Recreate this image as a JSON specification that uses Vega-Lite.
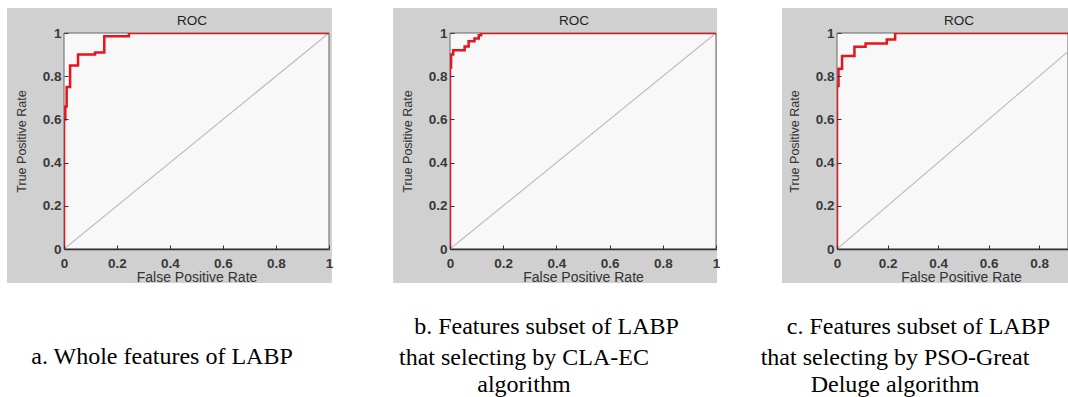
{
  "$schema": "https://vega.github.io/schema/vega-lite/v6.json",
  "background": "white",
  "padding": {"left": 7, "top": 7, "right": 0, "bottom": 0},
  "bounds": "flush",
  "spacing": 121,
  "config": {
    "view": {"stroke": null},
    "axis": {
      "zindex": 1, "grid": false,
      "labelFont": "Liberation Sans", "labelFontSize": 13.5, "labelFontWeight": "bold", "labelColor": "#383838",
      "titleFont": "Liberation Sans", "titleFontSize": 14, "titleFontWeight": "normal", "titleColor": "#333333",
      "tickColor": "#333333", "tickSize": -4, "domainColor": "#333333", "labelFlush": false, "format": "~g"
    },
    "axisY": {"titleFontSize": 12.5}
  },
  "resolve": {"scale": {"x": "independent", "y": "independent"}},
  "datasets": {
    "roc": [
      {"panel": "a", "i": 0, "fpr": 0, "tpr": 0},
      {"panel": "a", "i": 1, "fpr": 0, "tpr": 0.6},
      {"panel": "a", "i": 2, "fpr": 0.005, "tpr": 0.6},
      {"panel": "a", "i": 3, "fpr": 0.005, "tpr": 0.66},
      {"panel": "a", "i": 4, "fpr": 0.01, "tpr": 0.66},
      {"panel": "a", "i": 5, "fpr": 0.01, "tpr": 0.75},
      {"panel": "a", "i": 6, "fpr": 0.023, "tpr": 0.75},
      {"panel": "a", "i": 7, "fpr": 0.023, "tpr": 0.85},
      {"panel": "a", "i": 8, "fpr": 0.053, "tpr": 0.85},
      {"panel": "a", "i": 9, "fpr": 0.053, "tpr": 0.9},
      {"panel": "a", "i": 10, "fpr": 0.117, "tpr": 0.9},
      {"panel": "a", "i": 11, "fpr": 0.117, "tpr": 0.91},
      {"panel": "a", "i": 12, "fpr": 0.152, "tpr": 0.91},
      {"panel": "a", "i": 13, "fpr": 0.152, "tpr": 0.985},
      {"panel": "a", "i": 14, "fpr": 0.245, "tpr": 0.985},
      {"panel": "a", "i": 15, "fpr": 0.245, "tpr": 1},
      {"panel": "a", "i": 16, "fpr": 1, "tpr": 1},
      {"panel": "b", "i": 0, "fpr": 0, "tpr": 0},
      {"panel": "b", "i": 1, "fpr": 0, "tpr": 0.84},
      {"panel": "b", "i": 2, "fpr": 0.004, "tpr": 0.84},
      {"panel": "b", "i": 3, "fpr": 0.004, "tpr": 0.9},
      {"panel": "b", "i": 4, "fpr": 0.012, "tpr": 0.9},
      {"panel": "b", "i": 5, "fpr": 0.012, "tpr": 0.92},
      {"panel": "b", "i": 6, "fpr": 0.055, "tpr": 0.92},
      {"panel": "b", "i": 7, "fpr": 0.055, "tpr": 0.937},
      {"panel": "b", "i": 8, "fpr": 0.07, "tpr": 0.937},
      {"panel": "b", "i": 9, "fpr": 0.07, "tpr": 0.962},
      {"panel": "b", "i": 10, "fpr": 0.092, "tpr": 0.962},
      {"panel": "b", "i": 11, "fpr": 0.092, "tpr": 0.975},
      {"panel": "b", "i": 12, "fpr": 0.108, "tpr": 0.975},
      {"panel": "b", "i": 13, "fpr": 0.108, "tpr": 0.99},
      {"panel": "b", "i": 14, "fpr": 0.117, "tpr": 0.99},
      {"panel": "b", "i": 15, "fpr": 0.117, "tpr": 1},
      {"panel": "b", "i": 16, "fpr": 1, "tpr": 1},
      {"panel": "c", "i": 0, "fpr": 0, "tpr": 0},
      {"panel": "c", "i": 1, "fpr": 0, "tpr": 0.755},
      {"panel": "c", "i": 2, "fpr": 0.006, "tpr": 0.755},
      {"panel": "c", "i": 3, "fpr": 0.006, "tpr": 0.835},
      {"panel": "c", "i": 4, "fpr": 0.02, "tpr": 0.835},
      {"panel": "c", "i": 5, "fpr": 0.02, "tpr": 0.893},
      {"panel": "c", "i": 6, "fpr": 0.069, "tpr": 0.893},
      {"panel": "c", "i": 7, "fpr": 0.069, "tpr": 0.936},
      {"panel": "c", "i": 8, "fpr": 0.113, "tpr": 0.936},
      {"panel": "c", "i": 9, "fpr": 0.113, "tpr": 0.951},
      {"panel": "c", "i": 10, "fpr": 0.197, "tpr": 0.951},
      {"panel": "c", "i": 11, "fpr": 0.197, "tpr": 0.97},
      {"panel": "c", "i": 12, "fpr": 0.23, "tpr": 0.97},
      {"panel": "c", "i": 13, "fpr": 0.23, "tpr": 1},
      {"panel": "c", "i": 14, "fpr": 1, "tpr": 1}
    ]
  },
  "hconcat": [
    {
      "width": 265, "height": 216,
      "layer": [
        {"data": {"values": [{}]}, "mark": {"type": "rect", "fill": "#d0d0d0"},
         "encoding": {
           "x": {"datum": -0.215, "type": "quantitative", "scale": {"domain": [0, 1], "nice": false, "zero": false}},
           "x2": {"datum": 1.011},
           "y": {"datum": -0.157, "type": "quantitative", "scale": {"domain": [0, 1], "nice": false, "zero": false}},
           "y2": {"datum": 1.116}}},
        {"data": {"values": [{}]}, "mark": {"type": "rect", "fill": "#f8f8f8", "stroke": "#666666", "strokeWidth": 1},
         "encoding": {
           "x": {"datum": 0, "type": "quantitative", "scale": {"domain": [0, 1], "nice": false, "zero": false}},
           "x2": {"datum": 1},
           "y": {"datum": 0, "type": "quantitative", "scale": {"domain": [0, 1], "nice": false, "zero": false}},
           "y2": {"datum": 1}}},
        {"data": {"values": [{}]}, "mark": {"type": "rule", "color": "#bdbdbd", "strokeWidth": 1.2, "clip": true},
         "encoding": {
           "x": {"datum": 0, "type": "quantitative", "scale": {"domain": [0, 1], "nice": false, "zero": false}},
           "x2": {"datum": 1},
           "y": {"datum": 0, "type": "quantitative", "scale": {"domain": [0, 1], "nice": false, "zero": false}},
           "y2": {"datum": 1}}},
        {"data": {"name": "roc"}, "transform": [{"filter": "datum.panel === 'a'"}],
         "mark": {"type": "line", "color": "#e8131b", "strokeWidth": 2.5, "clip": true},
         "encoding": {
           "x": {"field": "fpr", "type": "quantitative", "scale": {"domain": [0, 1], "nice": false, "zero": false},
                 "axis": {"zindex": 2, "title": "False Positive Rate", "values": [0, 0.2, 0.4, 0.6, 0.8, 1], "labelPadding": 11, "titleY": 32, "titleBaseline": "alphabetic", "domainWidth": 1.5}},
           "y": {"field": "tpr", "type": "quantitative", "scale": {"domain": [0, 1], "nice": false, "zero": false},
                 "axis": {"zindex": 2, "title": "True Positive Rate", "values": [0, 0.2, 0.4, 0.6, 0.8, 1], "domain": false, "labelPadding": 7, "titleX": -43, "titleY": 108, "titleBaseline": "middle", "titleAlign": "center"}},
           "order": {"field": "i", "type": "quantitative"}}},
        {"data": {"values": [{}]}, "mark": {"type": "text", "text": "ROC", "font": "Liberation Sans", "fontSize": 13.5, "color": "#222222", "align": "center", "baseline": "alphabetic"},
         "encoding": {
           "x": {"datum": 0.483, "type": "quantitative", "scale": {"domain": [0, 1], "nice": false, "zero": false}},
           "y": {"datum": 1.037, "type": "quantitative", "scale": {"domain": [0, 1], "nice": false, "zero": false}}}},
        {"data": {"values": [{}]}, "mark": {"type": "text", "text": "a. Whole features of LABP", "font": "Liberation Serif", "fontSize": 24, "color": "#000000", "align": "center", "baseline": "alphabetic"},
         "encoding": {
           "x": {"datum": 0.37, "type": "quantitative", "scale": {"domain": [0, 1], "nice": false, "zero": false}},
           "y": {"datum": -0.532, "type": "quantitative", "scale": {"domain": [0, 1], "nice": false, "zero": false}}}}
      ]
    },
    {
      "width": 266, "height": 216,
      "layer": [
        {"data": {"values": [{}]}, "mark": {"type": "rect", "fill": "#d0d0d0"},
         "encoding": {
           "x": {"datum": -0.214, "type": "quantitative", "scale": {"domain": [0, 1], "nice": false, "zero": false}},
           "x2": {"datum": 1.004},
           "y": {"datum": -0.157, "type": "quantitative", "scale": {"domain": [0, 1], "nice": false, "zero": false}},
           "y2": {"datum": 1.116}}},
        {"data": {"values": [{}]}, "mark": {"type": "rect", "fill": "#f8f8f8", "stroke": "#666666", "strokeWidth": 1},
         "encoding": {
           "x": {"datum": 0, "type": "quantitative", "scale": {"domain": [0, 1], "nice": false, "zero": false}},
           "x2": {"datum": 1},
           "y": {"datum": 0, "type": "quantitative", "scale": {"domain": [0, 1], "nice": false, "zero": false}},
           "y2": {"datum": 1}}},
        {"data": {"values": [{}]}, "mark": {"type": "rule", "color": "#bdbdbd", "strokeWidth": 1.2, "clip": true},
         "encoding": {
           "x": {"datum": 0, "type": "quantitative", "scale": {"domain": [0, 1], "nice": false, "zero": false}},
           "x2": {"datum": 1},
           "y": {"datum": 0, "type": "quantitative", "scale": {"domain": [0, 1], "nice": false, "zero": false}},
           "y2": {"datum": 1}}},
        {"data": {"name": "roc"}, "transform": [{"filter": "datum.panel === 'b'"}],
         "mark": {"type": "line", "color": "#e8131b", "strokeWidth": 2.5, "clip": true},
         "encoding": {
           "x": {"field": "fpr", "type": "quantitative", "scale": {"domain": [0, 1], "nice": false, "zero": false},
                 "axis": {"zindex": 2, "title": "False Positive Rate", "values": [0, 0.2, 0.4, 0.6, 0.8, 1], "labelPadding": 11, "titleY": 32, "titleBaseline": "alphabetic", "domainWidth": 1.5}},
           "y": {"field": "tpr", "type": "quantitative", "scale": {"domain": [0, 1], "nice": false, "zero": false},
                 "axis": {"zindex": 2, "title": "True Positive Rate", "values": [0, 0.2, 0.4, 0.6, 0.8, 1], "domain": false, "labelPadding": 7, "titleX": -43, "titleY": 108, "titleBaseline": "middle", "titleAlign": "center"}},
           "order": {"field": "i", "type": "quantitative"}}},
        {"data": {"values": [{}]}, "mark": {"type": "text", "text": "ROC", "font": "Liberation Sans", "fontSize": 13.5, "color": "#222222", "align": "center", "baseline": "alphabetic"},
         "encoding": {
           "x": {"datum": 0.466, "type": "quantitative", "scale": {"domain": [0, 1], "nice": false, "zero": false}},
           "y": {"datum": 1.037, "type": "quantitative", "scale": {"domain": [0, 1], "nice": false, "zero": false}}}},
        {"data": {"values": [{}]}, "mark": {"type": "text", "text": "b. Features subset of LABP", "font": "Liberation Serif", "fontSize": 24, "color": "#000000", "align": "center", "baseline": "alphabetic"},
         "encoding": {
           "x": {"datum": 0.3628, "type": "quantitative", "scale": {"domain": [0, 1], "nice": false, "zero": false}},
           "y": {"datum": -0.3935, "type": "quantitative", "scale": {"domain": [0, 1], "nice": false, "zero": false}}}},
        {"data": {"values": [{}]}, "mark": {"type": "text", "text": ["that selecting by CLA-EC", "algorithm"], "font": "Liberation Serif", "fontSize": 24, "color": "#000000", "align": "center", "baseline": "alphabetic", "lineHeight": 27},
         "encoding": {
           "x": {"datum": 0.278, "type": "quantitative", "scale": {"domain": [0, 1], "nice": false, "zero": false}},
           "y": {"datum": -0.535, "type": "quantitative", "scale": {"domain": [0, 1], "nice": false, "zero": false}}}}
      ]
    },
    {
      "width": 231, "height": 216,
      "layer": [
        {"data": {"values": [{}]}, "mark": {"type": "rect", "fill": "#d0d0d0"},
         "encoding": {
           "x": {"datum": -0.2176, "type": "quantitative", "scale": {"domain": [0, 0.914], "nice": false, "zero": false}},
           "x2": {"datum": 0.914},
           "y": {"datum": -0.157, "type": "quantitative", "scale": {"domain": [0, 1], "nice": false, "zero": false}},
           "y2": {"datum": 1.116}}},
        {"data": {"values": [{}]}, "mark": {"type": "rect", "fill": "#f8f8f8", "stroke": "#666666", "strokeWidth": 1},
         "encoding": {
           "x": {"datum": 0, "type": "quantitative", "scale": {"domain": [0, 0.914], "nice": false, "zero": false}},
           "x2": {"datum": 0.914},
           "y": {"datum": 0, "type": "quantitative", "scale": {"domain": [0, 1], "nice": false, "zero": false}},
           "y2": {"datum": 1}}},
        {"data": {"values": [{}]}, "mark": {"type": "rule", "color": "#bdbdbd", "strokeWidth": 1.2, "clip": true},
         "encoding": {
           "x": {"datum": 0, "type": "quantitative", "scale": {"domain": [0, 0.914], "nice": false, "zero": false}},
           "x2": {"datum": 1},
           "y": {"datum": 0, "type": "quantitative", "scale": {"domain": [0, 1], "nice": false, "zero": false}},
           "y2": {"datum": 1}}},
        {"data": {"name": "roc"}, "transform": [{"filter": "datum.panel === 'c'"}],
         "mark": {"type": "line", "color": "#e8131b", "strokeWidth": 2.5, "clip": true},
         "encoding": {
           "x": {"field": "fpr", "type": "quantitative", "scale": {"domain": [0, 0.914], "nice": false, "zero": false},
                 "axis": {"zindex": 2, "title": "False Positive Rate", "values": [0, 0.2, 0.4, 0.6, 0.8], "labelPadding": 11, "titleX": 124, "titleY": 32, "titleBaseline": "alphabetic", "domainWidth": 1.5}},
           "y": {"field": "tpr", "type": "quantitative", "scale": {"domain": [0, 1], "nice": false, "zero": false},
                 "axis": {"zindex": 2, "title": "True Positive Rate", "values": [0, 0.2, 0.4, 0.6, 0.8, 1], "domain": false, "labelPadding": 7, "titleX": -43, "titleY": 108, "titleBaseline": "middle", "titleAlign": "center"}},
           "order": {"field": "i", "type": "quantitative"}}},
        {"data": {"values": [{}]}, "mark": {"type": "text", "text": "ROC", "font": "Liberation Sans", "fontSize": 13.5, "color": "#222222", "align": "center", "baseline": "alphabetic"},
         "encoding": {
           "x": {"datum": 0.483, "type": "quantitative", "scale": {"domain": [0, 0.914], "nice": false, "zero": false}},
           "y": {"datum": 1.037, "type": "quantitative", "scale": {"domain": [0, 1], "nice": false, "zero": false}}}},
        {"data": {"values": [{}]}, "mark": {"type": "text", "text": "c. Features subset of LABP", "font": "Liberation Serif", "fontSize": 24, "color": "#000000", "align": "center", "baseline": "alphabetic"},
         "encoding": {
           "x": {"datum": 0.3225, "type": "quantitative", "scale": {"domain": [0, 0.914], "nice": false, "zero": false}},
           "y": {"datum": -0.3935, "type": "quantitative", "scale": {"domain": [0, 1], "nice": false, "zero": false}}}},
        {"data": {"values": [{}]}, "mark": {"type": "text", "text": ["that selecting by PSO-Great", "Deluge algorithm"], "font": "Liberation Serif", "fontSize": 24, "color": "#000000", "align": "center", "baseline": "alphabetic", "lineHeight": 27},
         "encoding": {
           "x": {"datum": 0.2295, "type": "quantitative", "scale": {"domain": [0, 0.914], "nice": false, "zero": false}},
           "y": {"datum": -0.535, "type": "quantitative", "scale": {"domain": [0, 1], "nice": false, "zero": false}}}}
      ]
    }
  ]
}
